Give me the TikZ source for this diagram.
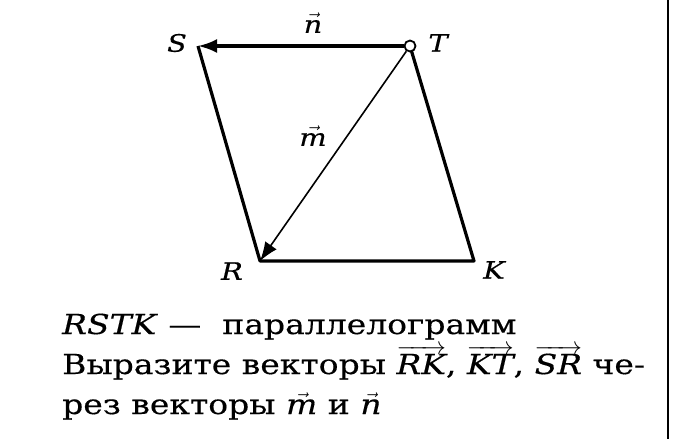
\documentclass[tikz,border=0pt]{standalone}
\usepackage{fontspec}
\setmainfont{DejaVu Serif}
\newfontfamily\taskfont{DejaVu Serif}[FakeStretch=1.2,FakeBold=0.4]
\usetikzlibrary{arrows.meta,positioning}

\begin{document}
\begin{tikzpicture}[x=1pt,y=-1pt,
        side/.style={line width=3.2pt,line join=round},
        diag/.style={line width=1.6pt},
        tip/.style={-{Latex[length=19pt,width=14pt]}},
        vtx/.style={font=\fontsize{24}{28}\taskfont\itshape},
        vlbl/.style={font=\fontsize{24}{28}\taskfont},
        task/.style={anchor=base west,inner sep=0pt,font=\fontsize{27.5}{33}\taskfont}]
    \useasboundingbox (0,0) rectangle (681,439);
    % vertices
    \coordinate (S) at (198,46);
    \coordinate (T) at (410,46);
    \coordinate (R) at (260,261);
    \coordinate (K) at (474,261);
    % sides and vectors
    \draw[side] (S) -- (R) -- (K) -- (T);
    \node[circle,draw,fill=white,line width=1.8pt,inner sep=0pt,minimum size=11pt] (Tc) at (T) {};
    \draw[side,tip] (Tc) -- (S);
    \draw[diag,tip] (Tc) -- (R);
    % labels
    \node[vtx] (lS) at (177,43) {S};
    \node[vtx] (lT) at (438,43) {T};
    \node[vtx] (lR) at (232,271) {R};
    \node[vtx] (lK) at (494,270) {K};
    \node[vlbl] (ln) at (313,23) {$\vec{\textit{n}}$};
    \node[vlbl] (lm) at (313,136) {$\vec{\textit{m}}$};
    % task text
    \node[task] (t1) at (62,334) {\textit{RSTK} —\ \ параллелограмм};
    \node[task] (t2) at (62,374) {Выразите векторы $\overrightarrow{\textit{RK}}$, $\overrightarrow{\textit{KT}}$, $\overrightarrow{\textit{SR}}$ че-};
    \node[task] (t3) at (62,414) {рез векторы $\vec{\textit{m}}$ и $\vec{\textit{n}}$};
    % frame
    \coordinate (f1) at (668,0);
    \coordinate (f2) at (668,439);
    \draw[line width=2pt] (f1) -- (f2);
\end{tikzpicture}
\end{document}
